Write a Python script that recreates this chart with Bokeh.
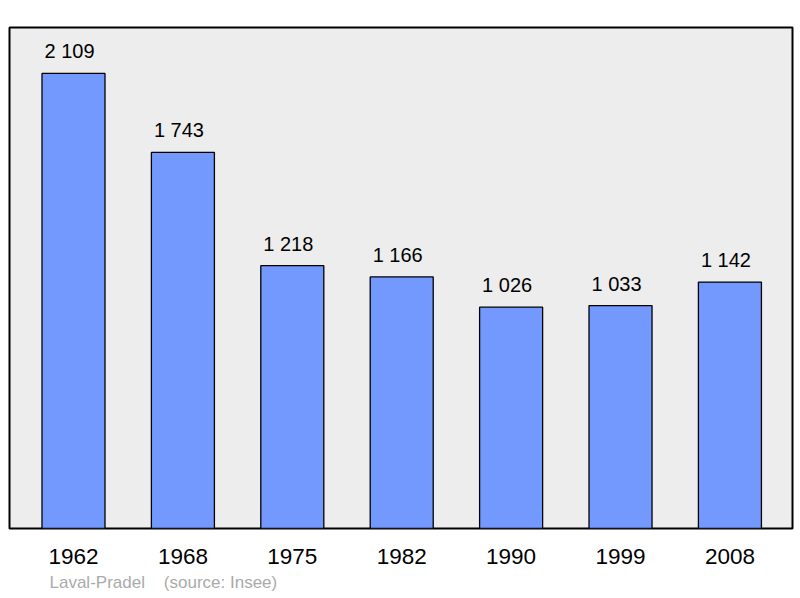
from bokeh.plotting import figure
from bokeh.models import Range1d, FixedTicker, ColumnDataSource, Title
from bokeh.core.properties import value
from bokeh.embed import file_html
from bokeh.resources import INLINE

years = ["1962", "1968", "1975", "1982", "1990", "1999", "2008"]
population = [2109, 1743, 1218, 1166, 1026, 1033, 1142]
labels = ["2 109", "1 743", "1 218", "1 166", "1 026", "1 033", "1 142"]
source_text = "Laval-Pradel \u00a0\u00a0\u00a0(source: Insee)"

idx = list(range(len(years)))
src = ColumnDataSource(dict(x=idx, top=population, label=labels))

p = figure(width=794, height=596, output_backend="svg", toolbar_location=None,
           x_range=Range1d(-0.585, 6.572), y_range=Range1d(0, 2322),
           min_border_left=9, min_border_right=2, min_border_top=27, min_border_bottom=68)
p.background_fill_color = "#ededed"
p.border_fill_color = "white"
p.outline_line_color = "black"
p.outline_line_width = 2
p.grid.visible = False
p.yaxis.visible = False

p.vbar(x="x", top="top", width=0.576, bottom=0, source=src,
       fill_color="#7399ff", line_color="black", line_width=1.3)
p.text(x="x", y="top", text="label", source=src, text_align="center",
       text_baseline="alphabetic", x_offset=-4, y_offset=-22, text_font_size="20px",
       text_font=value("Liberation Sans"), text_color="black")

ax = p.xaxis[0]
ax.ticker = FixedTicker(ticks=idx)
ax.major_label_overrides = {i: y for i, y in zip(idx, years)}
ax.axis_line_color = None
ax.major_tick_line_color = None
ax.minor_tick_line_color = None
ax.major_label_text_font_size = "22.5px"
ax.major_label_text_font = "Liberation Sans"
ax.major_label_text_color = "black"
ax.major_label_standoff = 14

t = Title(text=source_text, align="left", offset=40, text_font_size="17px",
          text_font="Liberation Sans", text_font_style="normal", text_color="#aaaaaa",
          standoff=8)
p.add_layout(t, "below")

open("out.html", "w").write(file_html(p, INLINE))
